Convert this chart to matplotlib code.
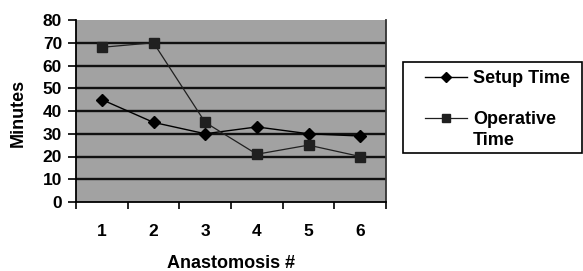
import matplotlib
matplotlib.use("Agg")
import matplotlib.pyplot as plt
from matplotlib.patches import Rectangle

categories = ["1", "2", "3", "4", "5", "6"]
setup_time = [45, 35, 30, 33, 30, 29]
operative_time = [68, 70, 35, 21, 25, 20]
y_ticks = [0, 10, 20, 30, 40, 50, 60, 70, 80]

plt.rcParams['font.family'] = ['Liberation Sans', 'DejaVu Sans']
plt.rcParams['font.weight'] = 'bold'

W, H = 583, 271
fig = plt.figure(figsize=(W / 100, H / 100), dpi=100)
ax = fig.add_axes([76 / W, 1 - 202 / H, (386 - 76) / W, (202 - 20) / H])
ax.set_facecolor('#a2a2a2')

x = list(range(len(categories)))
ax.plot(x, setup_time, color='black', lw=1.0, marker='D', markersize=6,
        label='Setup Time', zorder=3)
ax.plot(x, operative_time, color='#202020', lw=0.9, marker='s', markersize=6.5,
        markerfacecolor='#202020', label='Operative', zorder=3)

ax.set_xlim(-0.5, len(categories) - 0.5)
ax.set_ylim(0, 80)
ax.set_yticks(y_ticks)
for yv in y_ticks[1:-1]:
    ax.axhline(yv, color='#111111', lw=1.7, zorder=1)

ax.set_xticks([i - 0.5 for i in range(len(categories) + 1)])
ax.set_xticklabels([])
ax.set_xticks(x, minor=True)
ax.set_xticklabels(categories, minor=True, fontsize=12.5, fontweight='bold')
ax.tick_params(axis='x', which='major', direction='out', length=5, width=1.2)
ax.tick_params(axis='x', which='minor', length=0, pad=16)
ax.tick_params(axis='y', direction='out', length=6, width=1.2, pad=4, labelsize=12.5)
for lab in ax.get_yticklabels():
    lab.set_fontweight('bold')

ax.spines['top'].set_visible(False)
ax.spines['left'].set_linewidth(1.3)
ax.spines['bottom'].set_linewidth(1.3)
ax.spines['right'].set_linewidth(1.3)
ax.spines['right'].set_color('#333333')

ax.set_ylabel('Minutes', fontsize=13, fontweight='bold')
ax.yaxis.set_label_coords(-(76 - 18) / (386 - 76), 0.49)
ax.yaxis.label.set_va('center')
ax.set_xlabel('Anastomosis #', fontsize=13, fontweight='bold')
ax.xaxis.set_label_coords(0.5, -(263 - 202) / (202 - 20))
ax.xaxis.label.set_va('center')

# legend frame
fig.add_artist(Rectangle((403 / W, 1 - 153 / H), (582 - 403) / W, (153 - 62) / H,
                         transform=fig.transFigure, facecolor='white',
                         edgecolor='black', lw=1.2, zorder=1))
leg = fig.legend(loc='upper left', bbox_to_anchor=(425 / W, 1 - 70 / H),
                 frameon=False, fontsize=13, handlelength=2.3,
                 handletextpad=0.35, labelspacing=1.35, borderaxespad=0,
                 borderpad=0, markerscale=0.8)
for t in leg.get_texts():
    t.set_fontweight('bold')
fig.text(473 / W, 1 - 141 / H, 'Time', fontsize=13, fontweight='bold',
         va='center', ha='left')

fig.savefig('out.png', dpi=100)
